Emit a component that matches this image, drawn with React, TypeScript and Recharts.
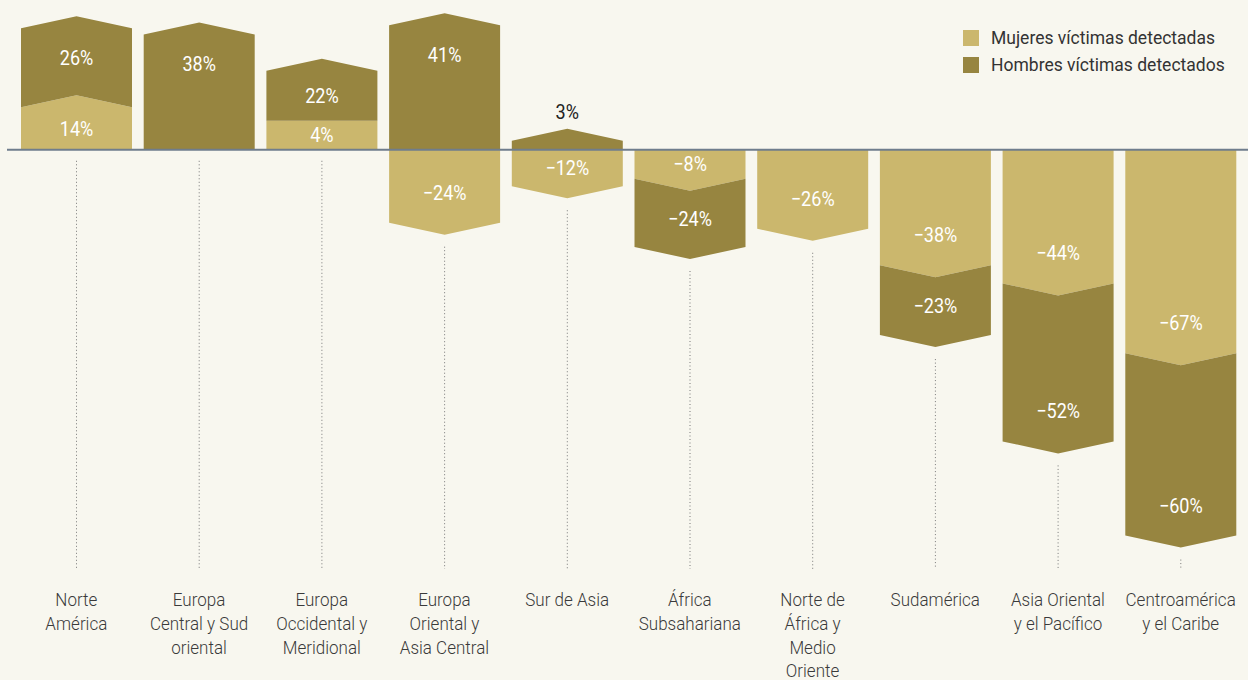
import { Bar, BarChart, ReferenceLine, XAxis, YAxis } from "recharts";

const regions = [
  "Norte América",
  "Europa Central y Sud oriental",
  "Europa Occidental y Meridional",
  "Europa Oriental y Asia Central",
  "Sur de Asia",
  "África Subsahariana",
  "Norte de África y Medio Oriente",
  "Sudamérica",
  "Asia Oriental y el Pacífico",
  "Centroamérica y el Caribe",
];
const regionLines = [
  ["Norte", "América"],
  ["Europa", "Central y Sud", "oriental"],
  ["Europa", "Occidental y", "Meridional"],
  ["Europa", "Oriental y", "Asia Central"],
  ["Sur de Asia"],
  ["África", "Subsahariana"],
  ["Norte de", "África y", "Medio", "Oriente"],
  ["Sudamérica"],
  ["Asia Oriental", "y el Pacífico"],
  ["Centroamérica", "y el Caribe"],
];
const womenChange = [14, null, 4, -24, -12, -8, -26, -38, -44, -67];
const menChange = [26, 38, 22, 41, 3, -24, null, -23, -52, -60];
const seriesNames = ["Mujeres víctimas detectadas", "Hombres víctimas detectados"];

const WOMEN = "#cbb76d";
const MEN = "#978540";
const BG = "#f8f7ef";
const FONT = "Roboto, 'Noto Sans', sans-serif";

const W = 1248;
const H = 680;
const AXIS_H = 111;
const PLOT_BOTTOM = H - AXIS_H;
const CH = 12; // chevron depth
const MIN_INNER = 29; // inner segments are never drawn thinner than this (room for the label)

const data = regions.map((region, i) => ({
  region,
  lines: regionLines[i],
  mujeres: womenChange[i],
  hombres: menChange[i],
}));

function fmt(v: number) {
  return v < 0 ? `\u2212${Math.abs(v)}%` : `${v}%`;
}

// roboto squeezed a little, closer to the condensed face of the original
function NarrowText({ x, y, fill, size, weight = 300, squeeze = 0.9, children }: any) {
  return (
    <text
      transform={`translate(${x},${y}) scale(${squeeze},1)`}
      textAnchor="middle"
      dominantBaseline="central"
      fill={fill}
      fontSize={size}
      fontWeight={weight}
      fontFamily={FONT}
    >
      {children}
    </text>
  );
}

function Segment(props: any) {
  const { x, y, width, height, payload, ownKey, otherKey, fill } = props;
  const v = payload[ownKey];
  if (!v) return null;
  const other = payload[otherKey] ?? 0;
  const sameSide = other !== 0 && Math.sign(other) === Math.sign(v);
  const isInner = ownKey === "mujeres";

  const hasNotch = !isInner && sameSide && Math.abs(other) >= 5;
  const hasChevron = !(isInner && sameSide && Math.abs(v) < 5);

  const top0 = Math.min(y, y + height);
  const bottom0 = Math.max(y, y + height);
  const pxPerUnit = (bottom0 - top0) / Math.abs(v);
  const pos = v > 0;
  const d = pos ? -1 : 1;
  let base = pos ? bottom0 : top0;
  let end = pos ? top0 : bottom0;

  if (isInner && sameSide && bottom0 - top0 < MIN_INNER) {
    end = base + d * MIN_INNER;
  }
  if (!isInner && sameSide) {
    const innerPx = Math.abs(other) * pxPerUnit;
    if (innerPx < MIN_INNER) base += d * (MIN_INNER - innerPx);
  }
  const top = Math.min(base, end);
  const bottom = Math.max(base, end);

  const left = x;
  const right = x + width;
  const cx = x + width / 2;

  const pts = [
    [left, base],
    [cx, base + (hasNotch ? d * CH : 0)],
    [right, base],
    [right, end],
    [cx, end + (hasChevron ? d * CH : 0)],
    [left, end],
  ]
    .map((p) => p.join(","))
    .join(" ");

  const h = bottom - top;
  let ly: number;
  let color = "#fff";
  if (h < 20 && !isInner) {
    ly = end + d * (CH + 17);
    color = "#222";
  } else if (h < 70) {
    ly = (base + end) / 2 + (hasNotch ? (d * CH) / 2 : 0);
  } else {
    ly = end - d * 30;
  }

  // the lowest segment in the column draws the dotted guide line
  const drawsGuide = isInner ? !(other < 0) : v < 0 || (v > 0 && !other);
  const guideStart = v < 0 ? bottom + (hasChevron ? CH : 0) + 12 : bottom + 11;

  return (
    <g>
      <polygon points={pts} fill={fill} />
      {drawsGuide ? (
        <line x1={cx} x2={cx} y1={guideStart} y2={PLOT_BOTTOM} stroke="#777" strokeWidth={1} strokeDasharray="1 2.5" />
      ) : null}
      <NarrowText x={cx} y={ly} fill={color} size={21} weight={400} squeeze={0.86}>
        {fmt(v)}
      </NarrowText>
    </g>
  );
}

function RegionTick(props: any) {
  const { x, payload, index } = props;
  const lines = data[index]?.lines ?? [payload.value];
  return (
    <g>
      {lines.map((line: string, i: number) => (
        <NarrowText key={i} x={x} y={PLOT_BOTTOM + 31 + i * 23.7} fill="#3a3a3a" size={18.5} squeeze={0.92}>
          {line}
        </NarrowText>
      ))}
    </g>
  );
}

export default function App() {
  return (
    <div style={{ position: "absolute", left: 0, top: 0, width: W, height: H, background: BG, fontFamily: FONT }}>
      <BarChart width={W} height={H} data={data} stackOffset="sign" barSize={111} margin={{ top: 4, right: 0, bottom: 0, left: 7 }}>
        <XAxis dataKey="region" height={AXIS_H} axisLine={false} tickLine={false} interval={0} padding={{ left: 8, right: 6 }} tick={<RegionTick />} />
        <YAxis hide type="number" domain={[-138, 48]} />
        <Bar dataKey="mujeres" name={seriesNames[0]} stackId="a" fill={WOMEN} isAnimationActive={false}
          shape={(p: any) => <Segment {...p} ownKey="mujeres" otherKey="hombres" fill={WOMEN} />} />
        <Bar dataKey="hombres" name={seriesNames[1]} stackId="a" fill={MEN} isAnimationActive={false}
          shape={(p: any) => <Segment {...p} ownKey="hombres" otherKey="mujeres" fill={MEN} />} />
        <ReferenceLine y={0} stroke="#6f7d8d" strokeWidth={2} />
      </BarChart>
      <div style={{ position: "absolute", left: 963, top: 24, color: "#333", fontSize: 17.5 }}>
        {[WOMEN, MEN].map((c, i) => (
          <div key={i} style={{ display: "flex", alignItems: "center", height: 27 }}>
            <span style={{ width: 16, height: 16, background: c, display: "inline-block", marginRight: 12 }} />
            <span>{seriesNames[i]}</span>
          </div>
        ))}
      </div>
    </div>
  );
}
